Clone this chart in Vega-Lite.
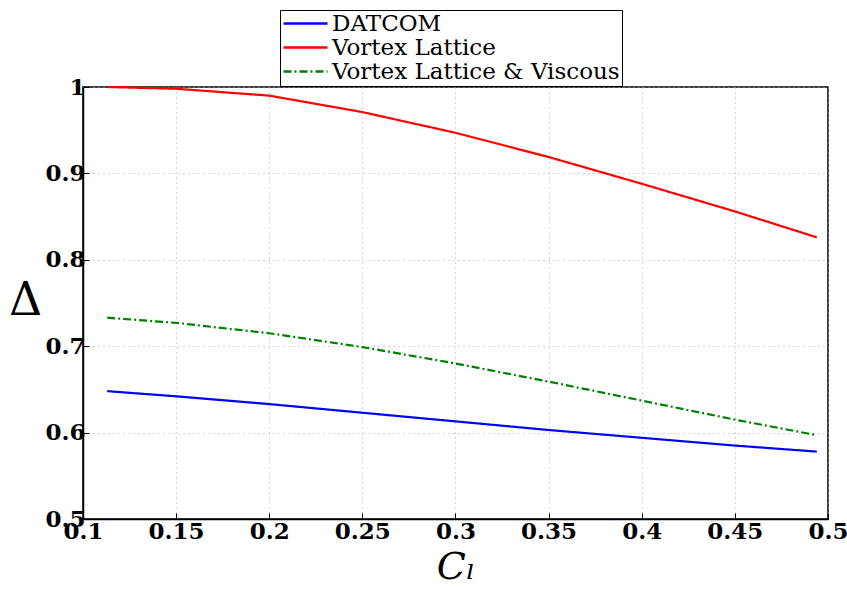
{
  "$schema": "https://vega.github.io/schema/vega-lite/v6.json",
  "width": 745,
  "height": 432,
  "autosize": {"type": "none"},
  "padding": {"left": 83, "top": 87, "right": 19, "bottom": 70},
  "background": "white",
  "config": {
    "view": {"stroke": "black", "strokeWidth": 1.5},
    "axis": {
      "labelFont": "DejaVu Serif",
      "labelFontWeight": "bold",
      "labelFontSize": 23,
      "labelColor": "black",
      "domainColor": "black",
      "domainWidth": 1.5,
      "tickColor": "black",
      "tickSize": -6,
      "gridColor": "#aaaaaa",
      "gridDash": [1, 4],
      "gridWidth": 1,
      "titleFont": "DejaVu Serif",
      "titleFontWeight": "normal",
      "titleColor": "black"
    }
  },
  "data": {
    "values": [
      {"Cl": 0.113, "D": 0.648, "s": "DATCOM"},
      {"Cl": 0.15, "D": 0.642, "s": "DATCOM"},
      {"Cl": 0.2, "D": 0.633, "s": "DATCOM"},
      {"Cl": 0.25, "D": 0.623, "s": "DATCOM"},
      {"Cl": 0.3, "D": 0.613, "s": "DATCOM"},
      {"Cl": 0.35, "D": 0.603, "s": "DATCOM"},
      {"Cl": 0.4, "D": 0.594, "s": "DATCOM"},
      {"Cl": 0.45, "D": 0.585, "s": "DATCOM"},
      {"Cl": 0.494, "D": 0.578, "s": "DATCOM"},
      {"Cl": 0.113, "D": 1.0, "s": "Vortex Lattice"},
      {"Cl": 0.15, "D": 0.998, "s": "Vortex Lattice"},
      {"Cl": 0.2, "D": 0.99, "s": "Vortex Lattice"},
      {"Cl": 0.25, "D": 0.971, "s": "Vortex Lattice"},
      {"Cl": 0.3, "D": 0.947, "s": "Vortex Lattice"},
      {"Cl": 0.35, "D": 0.919, "s": "Vortex Lattice"},
      {"Cl": 0.4, "D": 0.888, "s": "Vortex Lattice"},
      {"Cl": 0.45, "D": 0.856, "s": "Vortex Lattice"},
      {"Cl": 0.494, "D": 0.826, "s": "Vortex Lattice"},
      {"Cl": 0.113, "D": 0.733, "s": "Vortex Lattice & Viscous"},
      {"Cl": 0.15, "D": 0.727, "s": "Vortex Lattice & Viscous"},
      {"Cl": 0.2, "D": 0.715, "s": "Vortex Lattice & Viscous"},
      {"Cl": 0.25, "D": 0.699, "s": "Vortex Lattice & Viscous"},
      {"Cl": 0.3, "D": 0.68, "s": "Vortex Lattice & Viscous"},
      {"Cl": 0.35, "D": 0.659, "s": "Vortex Lattice & Viscous"},
      {"Cl": 0.4, "D": 0.637, "s": "Vortex Lattice & Viscous"},
      {"Cl": 0.45, "D": 0.615, "s": "Vortex Lattice & Viscous"},
      {"Cl": 0.494, "D": 0.597, "s": "Vortex Lattice & Viscous"}
    ]
  },
  "mark": {"type": "line", "strokeWidth": 2.2},
  "encoding": {
    "x": {
      "field": "Cl", "type": "quantitative",
      "scale": {"domain": [0.1, 0.5], "nice": false, "zero": false},
      "axis": {
        "values": [0.1, 0.15, 0.2, 0.25, 0.3, 0.35, 0.4, 0.45, 0.5],
        "format": "~g",
        "labelPadding": 7,
        "labelFlush": false,
        "title": "Cₗ",
        "titleFontSize": 38,
        "titleFontStyle": "italic",
        "titleBaseline": "middle",
        "titleY": 48
      }
    },
    "y": {
      "field": "D", "type": "quantitative",
      "scale": {"domain": [0.5, 1], "nice": false, "zero": false},
      "axis": {
        "values": [0.5, 0.6, 0.7, 0.8, 0.9, 1],
        "format": "~g",
        "labelPadding": 4,
        "labelFlush": false,
        "title": "Δ",
        "titleFontSize": 46,
        "titleAngle": 0,
        "titleAlign": "center",
        "titleBaseline": "middle",
        "titleX": -58,
        "titleY": 213
      }
    },
    "color": {
      "field": "s", "type": "nominal",
      "scale": {
        "domain": ["DATCOM", "Vortex Lattice", "Vortex Lattice & Viscous"],
        "range": ["#0000ff", "#ff0000", "#008000"]
      },
      "legend": {
        "title": null,
        "orient": "none",
        "legendX": 197,
        "legendY": -77,
        "labelFont": "DejaVu Serif",
        "labelFontSize": 23,
        "labelLimit": 500,
        "labelColor": "black",
        "symbolType": "M-1,0L3.4,0",
        "symbolSize": 400,
        "symbolStrokeWidth": 2.5,
        "rowPadding": -11,
        "padding": 2,
        "strokeColor": "black",
        "fillColor": "white",
        "labelOffset": 27
      }
    },
    "strokeDash": {
      "field": "s", "type": "nominal",
      "scale": {
        "domain": ["DATCOM", "Vortex Lattice", "Vortex Lattice & Viscous"],
        "range": [[1, 0], [1, 0], [8, 3, 2, 3]]
      },
      "legend": null
    }
  }
}
